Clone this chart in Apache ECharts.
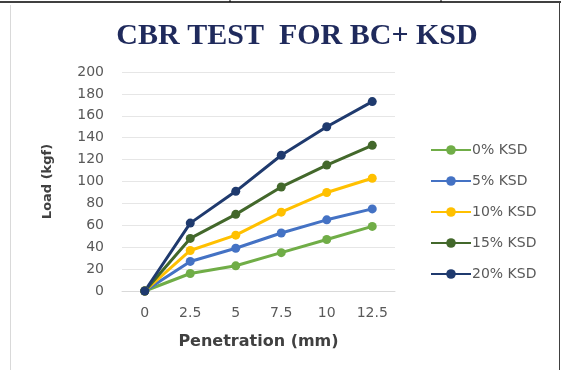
<!DOCTYPE html>
<html>
<head>
<meta charset="utf-8">
<script src="https://cdn.jsdelivr.net/npm/echarts@6/dist/echarts.min.js"></script>
<style>html,body{margin:0;padding:0;background:#fff;}#c{width:561px;height:370px;}</style>
</head>
<body>
<div id="c"></div>
<script>
const categories = ['0', '2.5', '5', '7.5', '10', '12.5'];
const seriesNames = ['0% KSD', '5% KSD', '10% KSD', '15% KSD', '20% KSD'];
const ksd0 = [0, 16, 23, 35, 47, 59];
const ksd5 = [0, 27, 39, 53, 65, 75];
const ksd10 = [0, 37, 51, 72, 90, 103];
const ksd15 = [0, 48, 70, 95, 115, 133];
const ksd20 = [0, 62, 91, 124, 150, 173];
const colors = ['#70ad47', '#4472c4', '#ffc000', '#43682b', '#1f3a6e'];

const dataList = [ksd0, ksd5, ksd10, ksd15, ksd20];
const chart = echarts.init(document.getElementById('c'));
chart.setOption({
  animation: false,
  backgroundColor: '#fff',
  title: {
    text: 'CBR TEST  FOR BC+ KSD',
    left: 292, textAlign: 'center', top: 16,
    textStyle: { fontFamily: 'Liberation Serif', fontWeight: 'bold', fontSize: 30, color: '#1f2a5c' }
  },
  legend: {
    orient: 'vertical', left: 425, top: 138,
    itemWidth: 40, itemHeight: 12, itemGap: 17,
    data: seriesNames,
    textStyle: { fontFamily: 'DejaVu Sans', fontSize: 14, color: '#595959', padding: [0,0,0,-4] }
  },
  grid: { left: 122, right: 166, top: 72, bottom: 79 },
  xAxis: {
    type: 'category', data: categories, boundaryGap: true,
    name: 'Penetration (mm)', nameLocation: 'middle', nameGap: 43,
    nameTextStyle: { fontFamily: 'DejaVu Sans', fontWeight: 'bold', fontSize: 16, color: '#404040' },
    axisLine: { show: true, lineStyle: { color: '#d9d9d9' } },
    axisTick: { show: false },
    axisLabel: { fontFamily: 'DejaVu Sans', fontSize: 14, color: '#595959', margin: 15 }
  },
  yAxis: {
    type: 'value', min: 0, max: 200, interval: 20,
    name: 'Load (kgf)', nameLocation: 'middle', nameGap: 68,
    nameTextStyle: { fontFamily: 'DejaVu Sans', fontWeight: 'bold', fontSize: 13, color: '#404040' },
    axisLine: { show: false }, axisTick: { show: false },
    axisLabel: { fontFamily: 'DejaVu Sans', fontSize: 14, color: '#595959', margin: 18 },
    splitLine: { lineStyle: { color: '#e6e6e6' } }
  },
  series: dataList.map((d, i) => ({
    name: seriesNames[i], type: 'line', data: d,
    color: colors[i],
    symbol: 'circle', symbolSize: 9,
    lineStyle: { width: 3, color: colors[i] },
    itemStyle: { color: colors[i] }
  })),
  graphic: [
    { type: 'line', shape: { x1: 0, y1: 2, x2: 561, y2: 2 }, style: { stroke: '#000', lineWidth: 1.5 } },
    { type: 'line', shape: { x1: 230, y1: 0, x2: 230, y2: 2 }, style: { stroke: '#000', lineWidth: 1 } },
    { type: 'line', shape: { x1: 441, y1: 0, x2: 441, y2: 2 }, style: { stroke: '#000', lineWidth: 1 } },
    { type: 'line', shape: { x1: 10.5, y1: 5, x2: 10.5, y2: 370 }, style: { stroke: '#d9d9d9', lineWidth: 1 } },
    { type: 'line', shape: { x1: 559.5, y1: 2, x2: 559.5, y2: 370 }, style: { stroke: '#404040', lineWidth: 1 } }
  ]
});
</script>
</body>
</html>
